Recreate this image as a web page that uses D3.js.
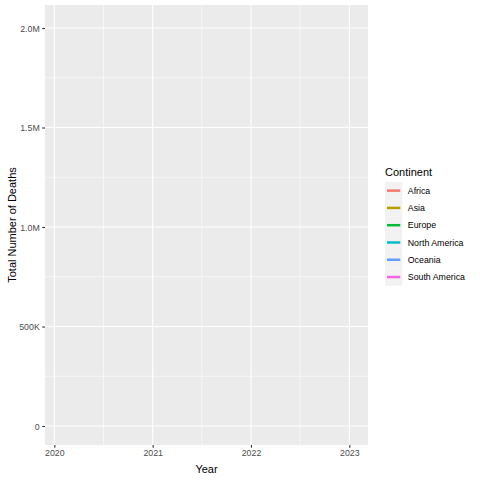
<!DOCTYPE html>
<html>
<head>
<meta charset="utf-8">
<script src="https://cdn.jsdelivr.net/npm/d3@7"></script>
<style>
  body { margin: 0; background: #fff; }
  text { font-family: "Liberation Sans", Arial, sans-serif; }
</style>
</head>
<body>
<script>
// chart data
var years = [2020, 2021, 2022, 2023];
var yTicks = [0, 500000, 1000000, 1500000, 2000000];
var yTickLabels = ['0', '500K', '1.0M', '1.5M', '2.0M'];
var continents = ['Africa', 'Asia', 'Europe', 'North America', 'Oceania', 'South America'];
var continentColors = ['#F8766D', '#B79F00', '#00BA38', '#00BFC4', '#619CFF', '#F564E3'];
// no line is visible in the panel: each series is empty
var africaDeaths = [];
var asiaDeaths = [];
var europeDeaths = [];
var northAmericaDeaths = [];
var oceaniaDeaths = [];
var southAmericaDeaths = [];

var width = 480, height = 480;
var panel = { left: 45, top: 5, right: 368, bottom: 445 };

var svg = d3.select('body').append('svg')
    .attr('width', width)
    .attr('height', height);

var x = d3.scaleLinear()
    .domain([2019.905, 2023.19])
    .range([panel.left, panel.right]);

var y = d3.scaleLinear()
    .domain([-95500, 2115600])
    .range([panel.bottom, panel.top]);

// panel background
svg.append('rect')
    .attr('x', panel.left)
    .attr('y', panel.top)
    .attr('width', panel.right - panel.left)
    .attr('height', panel.bottom - panel.top)
    .attr('fill', '#ebebeb');

var grid = svg.append('g');

// minor grid
var xMinor = years.slice(0, -1).map(function(d) { return d + 0.5; });
var yMinor = yTicks.slice(0, -1).map(function(d) { return d + 250000; });

grid.selectAll('.xminor').data(xMinor).enter().append('line')
    .attr('x1', function(d) { return x(d); })
    .attr('x2', function(d) { return x(d); })
    .attr('y1', panel.top).attr('y2', panel.bottom)
    .attr('stroke', '#fff').attr('stroke-width', 0.55);

grid.selectAll('.yminor').data(yMinor).enter().append('line')
    .attr('y1', function(d) { return y(d); })
    .attr('y2', function(d) { return y(d); })
    .attr('x1', panel.left).attr('x2', panel.right)
    .attr('stroke', '#fff').attr('stroke-width', 0.55);

// major grid
grid.selectAll('.xmajor').data(years).enter().append('line')
    .attr('x1', function(d) { return x(d); })
    .attr('x2', function(d) { return x(d); })
    .attr('y1', panel.top).attr('y2', panel.bottom)
    .attr('stroke', '#fff').attr('stroke-width', 1.1);

grid.selectAll('.ymajor').data(yTicks).enter().append('line')
    .attr('y1', function(d) { return y(d); })
    .attr('y2', function(d) { return y(d); })
    .attr('x1', panel.left).attr('x2', panel.right)
    .attr('stroke', '#fff').attr('stroke-width', 1.1);

// lines (one per continent)
var seriesValues = [africaDeaths, asiaDeaths, europeDeaths, northAmericaDeaths, oceaniaDeaths, southAmericaDeaths];
var line = d3.line()
    .x(function(d, i) { return x(years[i]); })
    .y(function(d) { return y(d); });

svg.append('g').selectAll('path')
    .data(seriesValues)
    .enter().append('path')
    .attr('d', function(d) { return d.length ? line(d) : null; })
    .attr('fill', 'none')
    .attr('stroke', function(d, i) { return continentColors[i]; })
    .attr('stroke-width', 1.1);

// axes
var xAxis = svg.append('g')
    .attr('transform', 'translate(0,' + panel.bottom + ')')
    .call(d3.axisBottom(x).tickValues(years).tickFormat(d3.format('d')).tickSize(2.75).tickPadding(2.5));

var yAxis = svg.append('g')
    .attr('transform', 'translate(' + panel.left + ',0)')
    .call(d3.axisLeft(y).tickValues(yTicks)
        .tickFormat(function(d, i) { return yTickLabels[i]; })
        .tickSize(2.75).tickPadding(2.5));

[xAxis, yAxis].forEach(function(ax) {
    ax.select('.domain').remove();
    ax.selectAll('.tick line').attr('stroke', '#333333').attr('stroke-width', 1.1);
    ax.selectAll('.tick text')
        .attr('fill', '#4d4d4d')
        .style('font-size', '8.8px')
        .style('font-family', '"Liberation Sans", Arial, sans-serif');
});
yAxis.selectAll('.tick text').attr('dy', '0.35em');

// axis titles
svg.append('text')
    .attr('x', (panel.left + panel.right) / 2)
    .attr('y', 473)
    .attr('text-anchor', 'middle')
    .style('font-size', '11px')
    .attr('fill', '#000')
    .text('Year');

svg.append('text')
    .attr('transform', 'translate(16,' + ((panel.top + panel.bottom) / 2) + ') rotate(-90)')
    .attr('text-anchor', 'middle')
    .style('font-size', '11px')
    .attr('fill', '#000')
    .text('Total Number of Deaths');

// legend
var legend = svg.append('g').attr('transform', 'translate(385,0)');

legend.append('text')
    .attr('x', 0)
    .attr('y', 176)
    .style('font-size', '11px')
    .attr('fill', '#000')
    .text('Continent');

var keySize = 17.28;
var keyTop = 182;

var keys = legend.selectAll('.key')
    .data(continents)
    .enter().append('g')
    .attr('transform', function(d, i) { return 'translate(0,' + (keyTop + i * keySize) + ')'; });

keys.append('rect')
    .attr('width', keySize)
    .attr('height', keySize)
    .attr('fill', '#f2f2f2');

keys.append('line')
    .attr('x1', 2).attr('x2', keySize - 2)
    .attr('y1', keySize / 2).attr('y2', keySize / 2)
    .attr('stroke', function(d, i) { return continentColors[i]; })
    .attr('stroke-width', 2.5);

keys.append('text')
    .attr('x', keySize + 5.5)
    .attr('y', keySize / 2)
    .attr('dy', '0.35em')
    .style('font-size', '8.8px')
    .attr('fill', '#000')
    .text(function(d) { return d; });
</script>
</body>
</html>
